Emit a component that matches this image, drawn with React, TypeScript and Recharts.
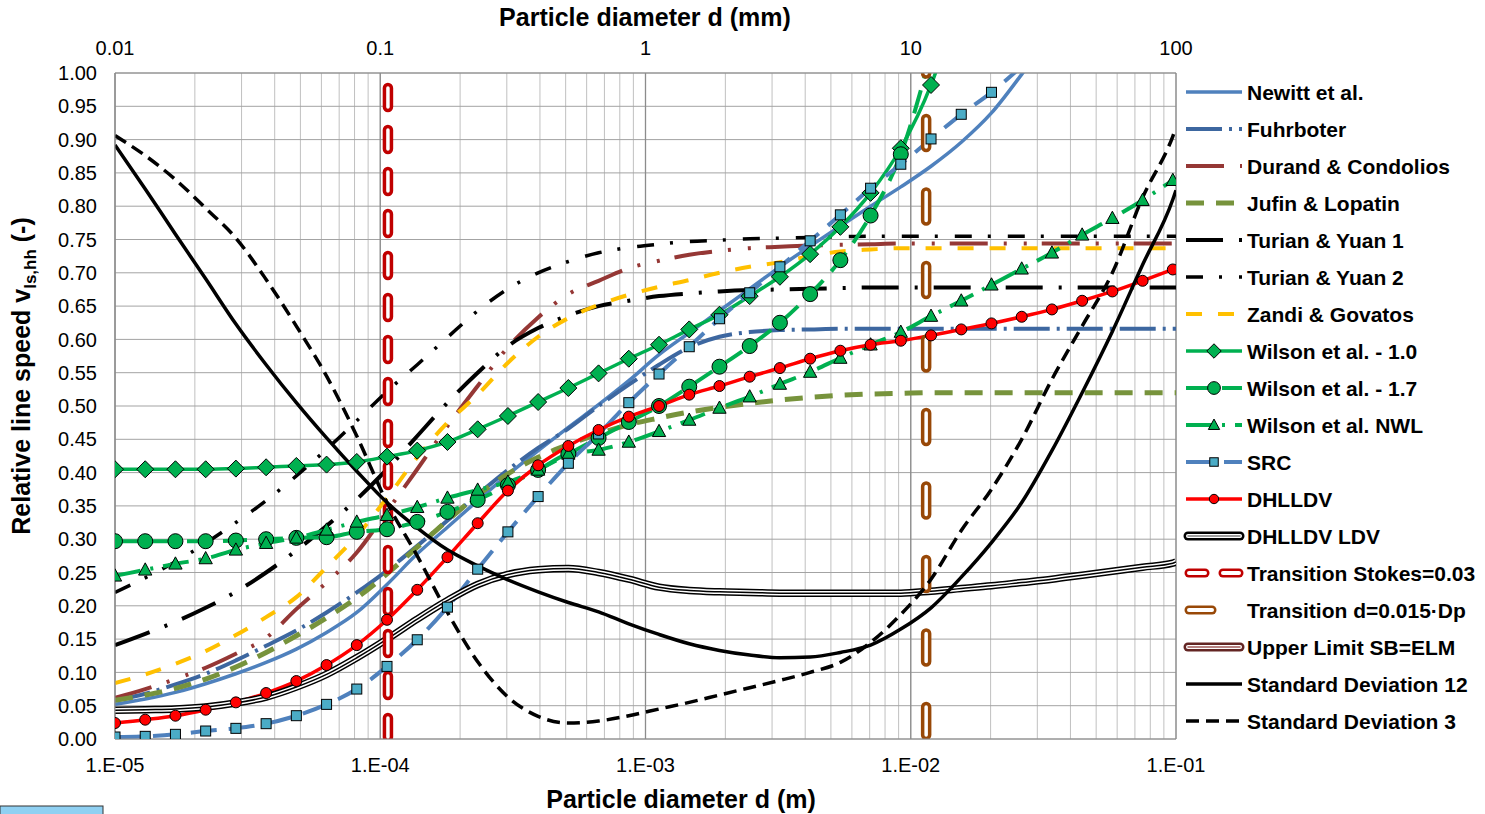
import React from 'react'
import { LineChart, Line, XAxis, YAxis, CartesianGrid, ReferenceLine } from 'recharts'

// diameters of the computed points (m), each step is a factor 1.3
const DIAMETERS = [
  1.0e-5, 1.3e-5, 1.69e-5, 2.197e-5, 2.856e-5, 3.713e-5, 4.827e-5, 6.275e-5, 8.157e-5,
  1.0604e-4, 1.3786e-4, 1.7922e-4, 2.3298e-4, 3.0288e-4, 3.9374e-4, 5.1186e-4, 6.6542e-4, 8.6504e-4,
  1.1246e-3, 1.4619e-3, 1.9005e-3, 2.4706e-3, 3.2118e-3, 4.1754e-3, 5.428e-3, 7.0564e-3, 9.1733e-3,
  1.1925e-2, 1.5503e-2, 2.0154e-2, 2.62e-2, 3.406e-2, 4.4278e-2, 5.7561e-2, 7.483e-2, 9.7279e-2,
]
// model curves run on to the end of the axis
const CURVE_DIAMETERS = [...DIAMETERS, 0.1]

const STOKES_D = 1.069e-4 // Stokes number 0.03
const DP_D = 0.01143 // 0.015 * Dp

const NEWITT = [
  0.052, 0.06, 0.07, 0.083, 0.098, 0.115, 0.135, 0.16, 0.19, 0.232, 0.278, 0.318, 0.358, 0.397, 0.433, 0.468,
  0.502, 0.538, 0.577, 0.61, 0.643, 0.676, 0.709, 0.74, 0.77, 0.8, 0.829, 0.86, 0.896, 0.94, 0.998, 1.06,
]
const FUHRBOTER = [
  0.058, 0.068, 0.082, 0.098, 0.118, 0.14, 0.163, 0.19, 0.22, 0.253, 0.29, 0.328, 0.367, 0.404, 0.437, 0.466,
  0.5, 0.532, 0.562, 0.588, 0.604, 0.611, 0.614, 0.615, 0.616, 0.616, 0.616, 0.616, 0.616, 0.616, 0.616, 0.616,
  0.616, 0.616, 0.616, 0.616, 0.616,
]
const DURAND = [
  0.062, 0.075, 0.09, 0.107, 0.128, 0.152, 0.195, 0.235, 0.28, 0.342, 0.405, 0.47, 0.53, 0.588, 0.633, 0.668,
  0.688, 0.707, 0.718, 0.727, 0.733, 0.737, 0.739, 0.741, 0.742, 0.743, 0.744, 0.744, 0.744, 0.744, 0.744, 0.744,
  0.744, 0.744, 0.744, 0.744, 0.744,
]
const JUFIN = [
  0.058, 0.066, 0.076, 0.09, 0.108, 0.13, 0.155, 0.182, 0.212, 0.248, 0.288, 0.328, 0.366, 0.398, 0.423, 0.442,
  0.458, 0.472, 0.482, 0.491, 0.498, 0.504, 0.509, 0.513, 0.516, 0.518, 0.519, 0.52, 0.52, 0.52, 0.52, 0.52,
  0.52, 0.52, 0.52, 0.52, 0.52,
]
const TURIAN_1 = [
  0.141, 0.158, 0.176, 0.197, 0.221, 0.25, 0.283, 0.32, 0.36, 0.405, 0.455, 0.505, 0.55, 0.59, 0.617, 0.636,
  0.65, 0.658, 0.665, 0.669, 0.672, 0.674, 0.675, 0.676, 0.677, 0.678, 0.678, 0.678, 0.678, 0.678, 0.678, 0.678,
  0.678, 0.678, 0.678, 0.678, 0.678,
]
const TURIAN_2 = [
  0.22, 0.242, 0.266, 0.294, 0.325, 0.358, 0.395, 0.435, 0.478, 0.522, 0.562, 0.603, 0.643, 0.676, 0.7, 0.717,
  0.73, 0.738, 0.743, 0.747, 0.749, 0.751, 0.752, 0.753, 0.754, 0.755, 0.755, 0.755, 0.755, 0.755, 0.755, 0.755,
  0.755, 0.755, 0.755, 0.755, 0.755,
]
const ZANDI = [
  0.084, 0.097, 0.113, 0.132, 0.156, 0.183, 0.213, 0.258, 0.305, 0.362, 0.423, 0.475, 0.517, 0.565, 0.604, 0.632,
  0.652, 0.667, 0.679, 0.689, 0.7, 0.709, 0.716, 0.725, 0.732, 0.735, 0.737, 0.737, 0.737, 0.737, 0.737, 0.737,
  0.737, 0.737, 0.737, 0.737, 0.737,
]
const WILSON_10 = [
  0.405, 0.405, 0.405, 0.405, 0.406, 0.408, 0.41, 0.412, 0.416, 0.424, 0.433, 0.446, 0.465, 0.485, 0.506, 0.527,
  0.549, 0.571, 0.592, 0.615, 0.637, 0.665, 0.694, 0.728, 0.769, 0.82, 0.887, 0.982, 1.12,
]
const WILSON_17 = [
  0.297, 0.297, 0.297, 0.297, 0.298, 0.3, 0.302, 0.303, 0.311, 0.315, 0.326, 0.341, 0.359, 0.381, 0.404, 0.428,
  0.452, 0.476, 0.5, 0.529, 0.559, 0.59, 0.625, 0.668, 0.719, 0.786, 0.878, 1.03,
]
const WILSON_NWL = [
  0.245, 0.254, 0.263, 0.271, 0.284, 0.294, 0.302, 0.314, 0.326, 0.336, 0.348, 0.362, 0.374, 0.386, 0.404, 0.428,
  0.434, 0.446, 0.462, 0.479, 0.497, 0.514, 0.533, 0.551, 0.572, 0.592, 0.611, 0.635, 0.658, 0.682, 0.706, 0.73,
  0.757, 0.782, 0.809, 0.839,
]
const SRC = [
  0.003, 0.004, 0.007, 0.012, 0.016, 0.023, 0.035, 0.052, 0.075, 0.109, 0.149, 0.198, 0.255, 0.311, 0.364, 0.414,
  0.458, 0.505, 0.548, 0.589, 0.631, 0.67, 0.709, 0.748, 0.787, 0.827, 0.863, 0.901, 0.938, 0.971, 1.01,
]
const DHLLDV = [
  0.024, 0.029, 0.035, 0.044, 0.055, 0.069, 0.087, 0.111, 0.141, 0.179, 0.224, 0.273, 0.324, 0.373, 0.411, 0.44,
  0.464, 0.484, 0.5, 0.517, 0.53, 0.544, 0.557, 0.571, 0.583, 0.592, 0.598, 0.606, 0.615, 0.624, 0.634, 0.645,
  0.658, 0.672, 0.688, 0.705,
]
const DHLLDV_LDV = [
  0.043, 0.044, 0.045, 0.048, 0.054, 0.063, 0.078, 0.097, 0.122, 0.15, 0.18, 0.208, 0.232, 0.247, 0.254, 0.256,
  0.25, 0.24, 0.228, 0.223, 0.221, 0.22, 0.219, 0.219, 0.219, 0.219, 0.219, 0.222, 0.226, 0.23, 0.235, 0.24,
  0.246, 0.252, 0.258, 0.264, 0.266,
]
const STD_DEV_12 = [
  0.892, 0.826, 0.758, 0.691, 0.623, 0.562, 0.505, 0.452, 0.402, 0.355, 0.317, 0.284, 0.26, 0.239, 0.221, 0.205,
  0.191, 0.173, 0.157, 0.143, 0.133, 0.126, 0.122, 0.123, 0.13, 0.141, 0.165, 0.197, 0.243, 0.295, 0.355, 0.433,
  0.52, 0.612, 0.712, 0.81, 0.824,
]
const STD_DEV_3 = [
  0.906, 0.876, 0.84, 0.797, 0.752, 0.69, 0.62, 0.545, 0.455, 0.355, 0.275, 0.19, 0.116, 0.063, 0.034, 0.024,
  0.027, 0.035, 0.045, 0.055, 0.066, 0.077, 0.088, 0.1, 0.115, 0.145, 0.187, 0.24, 0.313, 0.375, 0.45, 0.54,
  0.62, 0.7, 0.813, 0.905, 0.918,
]

const DECADES = [1e-5, 1e-4, 1e-3, 1e-2, 1e-1]
const DECADE_LABELS = ['1.E-05', '1.E-04', '1.E-03', '1.E-02', '1.E-01']
const MM_TICKS = [0.01, 0.1, 1, 10, 100]
const MM_LABELS = ['0.01', '0.1', '1', '10', '100']
const V_TICKS = [0, 0.05, 0.1, 0.15, 0.2, 0.25, 0.3, 0.35, 0.4, 0.45, 0.5, 0.55, 0.6, 0.65, 0.7, 0.75, 0.8, 0.85, 0.9, 0.95, 1]

const rows = (xs: number[], ys: number[]) => ys.map((v, i) => ({ d: xs[i], v }))

// 1..9 per decade, for the minor grid
const GRID_TICKS = [
  ...DECADES.slice(0, 4).flatMap((dec) => [1, 2, 3, 4, 5, 6, 7, 8, 9].map((m) => m * dec)),
  0.1,
]

// the mm axis only needs its two ends to span the same range
const MM_SPAN = [{ mm: 0.01, v: 0 }, { mm: 100, v: 0 }]

const FONT = '"Liberation Sans", Arial, sans-serif'
const GREEN = '#00b050'

type MarkerKind = 'diamond' | 'circle' | 'triangle' | 'square'

interface Series {
  name: string
  data: { d: number; v: number }[]
  color: string
  width: number
  dash?: string
  marker?: MarkerKind
  markerFill?: string
  markerSize?: number
}

const SERIES: Series[] = [
  { name: 'Newitt et al.', data: rows(DIAMETERS, NEWITT), color: '#4f81bd', width: 3.5 },
  { name: 'Fuhrboter', data: rows(CURVE_DIAMETERS, FUHRBOTER), color: '#3d67a0', width: 4, dash: '36 7 3 7' },
  { name: 'Durand & Condolios', data: rows(CURVE_DIAMETERS, DURAND), color: '#953735', width: 4, dash: '38 16 3 17 3 15' },
  { name: 'Jufin & Lopatin', data: rows(CURVE_DIAMETERS, JUFIN), color: '#77933c', width: 5, dash: '18 12' },
  { name: 'Turian & Yuan 1', data: rows(CURVE_DIAMETERS, TURIAN_1), color: '#000000', width: 4, dash: '37 16 3 16' },
  { name: 'Turian & Yuan 2', data: rows(CURVE_DIAMETERS, TURIAN_2), color: '#000000', width: 3.5, dash: '17 16 3 17' },
  { name: 'Zandi & Govatos', data: rows(CURVE_DIAMETERS, ZANDI), color: '#ffc000', width: 4, dash: '16 16' },
  { name: 'Wilson et al. - 1.0', data: rows(DIAMETERS, WILSON_10), color: GREEN, width: 3.5, marker: 'diamond', markerFill: GREEN, markerSize: 8.5 },
  { name: 'Wilson et al. - 1.7', data: rows(DIAMETERS, WILSON_17), color: GREEN, width: 4, dash: '24 12', marker: 'circle', markerFill: GREEN, markerSize: 7.5 },
  { name: 'Wilson et al. NWL', data: rows(DIAMETERS, WILSON_NWL), color: GREEN, width: 4, dash: '26 10 3 10', marker: 'triangle', markerFill: GREEN, markerSize: 7 },
  { name: 'SRC', data: rows(DIAMETERS, SRC), color: '#4f81bd', width: 4, dash: '26 12', marker: 'square', markerFill: '#4bacc6', markerSize: 5 },
  { name: 'DHLLDV', data: rows(DIAMETERS, DHLLDV), color: '#ff0000', width: 3.5, marker: 'circle', markerFill: '#ff0000', markerSize: 5.5 },
]

const STD_SERIES: Series[] = [
  { name: 'Standard Deviation 12', data: rows(CURVE_DIAMETERS, STD_DEV_12), color: '#000000', width: 3.5 },
  { name: 'Standard Deviation 3', data: rows(CURVE_DIAMETERS, STD_DEV_3), color: '#000000', width: 3.5, dash: '13 7' },
]

const LDV_ROWS = rows(CURVE_DIAMETERS, DHLLDV_LDV)
const STOKES_ROWS = [{ d: STOKES_D, v: 0 }, { d: STOKES_D, v: 1 }]
const DP_ROWS = [{ d: DP_D, v: 0 }, { d: DP_D, v: 1 }]

function MarkerShape({ kind, cx, cy, fill, r }: { kind: MarkerKind; cx: number; cy: number; fill: string; r: number }) {
  const stroke = { stroke: '#000', strokeWidth: 1 }
  if (kind === 'diamond')
    return <polygon points={`${cx},${cy - r} ${cx + r},${cy} ${cx},${cy + r} ${cx - r},${cy}`} fill={fill} {...stroke} />
  if (kind === 'circle') return <circle cx={cx} cy={cy} r={r} fill={fill} {...stroke} />
  if (kind === 'triangle')
    return (
      <polygon
        points={`${cx},${cy - r} ${cx + r * 0.95},${cy + r * 0.75} ${cx - r * 0.95},${cy + r * 0.75}`}
        fill={fill}
        {...stroke}
      />
    )
  return <rect x={cx - r} y={cy - r} width={2 * r} height={2 * r} fill={fill} {...stroke} />
}

const xTickLabel = (v: number) => {
  const i = DECADES.findIndex((dec) => Math.abs(v - dec) / dec < 1e-6)
  return i >= 0 ? DECADE_LABELS[i] : ''
}

const mmTickLabel = (v: number) => {
  const i = MM_TICKS.findIndex((t) => Math.abs(v - t) / t < 1e-6)
  return i >= 0 ? MM_LABELS[i] : ''
}

// legend rows on the right of the plot
const LEGEND_X = 1186
const LEGEND_W = 56
const LEGEND_TOP = 92
const LEGEND_STEP = 37

function LegendRow({ index, name, children }: { index: number; name: string; children: React.ReactNode }) {
  const y = LEGEND_TOP + index * LEGEND_STEP
  return (
    <g transform={`translate(0,${y})`}>
      {children}
      <text x={1247} y={0} dominantBaseline="central" fontSize={21} fontWeight="bold" fontFamily={FONT} fill="#000">
        {name}
      </text>
    </g>
  )
}

function LineSample({ s }: { s: Series }) {
  return (
    <>
      <line x1={LEGEND_X} x2={LEGEND_X + LEGEND_W} y1={0} y2={0} stroke={s.color} strokeWidth={s.width} strokeDasharray={s.dash} />
      {s.marker && (
        <MarkerShape kind={s.marker} cx={LEGEND_X + LEGEND_W / 2} cy={0} fill={s.markerFill ?? s.color} r={(s.markerSize ?? 5) * 0.85} />
      )}
    </>
  )
}

function Capsule({ x1, x2, color, inner }: { x1: number; x2: number; color: string; inner?: string }) {
  return (
    <>
      <line x1={x1} x2={x2} y1={0} y2={0} stroke={color} strokeWidth={9} strokeLinecap="round" />
      <line x1={x1} x2={x2} y1={0} y2={0} stroke="#fff" strokeWidth={4} strokeLinecap="round" />
      {inner && <line x1={x1} x2={x2} y1={0} y2={0} stroke={inner} strokeWidth={1.5} strokeLinecap="round" />}
    </>
  )
}

function Overlay() {
  return (
    <svg width={1485} height={814} style={{ position: 'absolute', left: 0, top: 0, pointerEvents: 'none' }}>
      <text x={645} y={26} textAnchor="middle" fontSize={25} fontWeight="bold" fontFamily={FONT}>
        Particle diameter d (mm)
      </text>
      <text x={681} y={808} textAnchor="middle" fontSize={25} fontWeight="bold" fontFamily={FONT}>
        Particle diameter d (m)
      </text>
      <text transform="translate(30,376) rotate(-90)" textAnchor="middle" fontSize={25} fontWeight="bold" fontFamily={FONT}>
        Relative line speed v
        <tspan fontSize={17} dy={6}>
          ls,hh
        </tspan>
        <tspan dy={-6}> (-)</tspan>
      </text>

      {SERIES.map((s, i) => (
        <LegendRow key={s.name} index={i} name={s.name}>
          <LineSample s={s} />
        </LegendRow>
      ))}
      <LegendRow index={12} name="DHLLDV LDV">
        <Capsule x1={LEGEND_X + 2} x2={LEGEND_X + LEGEND_W - 2} color="#000" inner="#808080" />
      </LegendRow>
      <LegendRow index={13} name="Transition Stokes=0.03">
        <Capsule x1={LEGEND_X + 3} x2={LEGEND_X + 19} color="#c00000" />
        <Capsule x1={LEGEND_X + 37} x2={LEGEND_X + 53} color="#c00000" />
      </LegendRow>
      <LegendRow index={14} name="Transition d=0.015·Dp">
        <Capsule x1={LEGEND_X + 3} x2={LEGEND_X + 26} color="#984807" />
      </LegendRow>
      <LegendRow index={15} name="Upper Limit SB=ELM">
        <Capsule x1={LEGEND_X + 2} x2={LEGEND_X + LEGEND_W - 2} color="#632523" inner="#a05a58" />
      </LegendRow>
      {STD_SERIES.map((s, i) => (
        <LegendRow key={s.name} index={16 + i} name={s.name}>
          <LineSample s={s} />
        </LegendRow>
      ))}

      <rect x={0} y={806} width={103} height={10} fill="#8fd0f2" stroke="#333" strokeWidth={1} />
    </svg>
  )
}

export default function App() {
  const lineProps = { xAxisId: 'm', type: 'monotone' as const, isAnimationActive: false, activeDot: false, dataKey: 'v' }

  const renderSeries = (s: Series) => (
    <Line
      key={s.name}
      {...lineProps}
      name={s.name}
      data={s.data}
      stroke={s.color}
      strokeWidth={s.width}
      strokeDasharray={s.dash}
      dot={
        s.marker
          ? (p: any) =>
              p.cx == null || p.cy == null ? (
                <g key={p.index} />
              ) : (
                <MarkerShape key={p.index} kind={s.marker!} cx={p.cx} cy={p.cy} fill={s.markerFill ?? s.color} r={s.markerSize ?? 5} />
              )
          : false
      }
    />
  )

  const tickStyle = { fontSize: 20, fill: '#000', fontFamily: FONT }

  return (
    <div style={{ position: 'absolute', left: 0, top: 0, width: 1485, height: 814, background: '#fff', fontFamily: FONT }}>
      <LineChart width={1485} height={814} margin={{ top: 0, right: 309, bottom: 0, left: 0 }}>
        <CartesianGrid xAxisId="m" horizontal={false} stroke="#c0c0c0" strokeWidth={1} />
        <CartesianGrid xAxisId="m" vertical={false} stroke="#a3a3a3" strokeWidth={1} />
        {DECADES.map((dec) => (
          <ReferenceLine key={dec} xAxisId="m" x={dec} stroke="#8c8c8c" strokeWidth={1.3} />
        ))}
        <XAxis
          xAxisId="m"
          dataKey="d"
          type="number"
          scale="log"
          domain={[1e-5, 0.1]}
          allowDataOverflow
          ticks={GRID_TICKS}
          interval={0}
          tickFormatter={xTickLabel}
          height={75}
          tickSize={0}
          tickMargin={19}
          axisLine={{ stroke: '#8c8c8c' }}
          tick={tickStyle}
        />
        <XAxis
          xAxisId="mm"
          dataKey="mm"
          orientation="top"
          type="number"
          scale="log"
          domain={[0.01, 100]}
          allowDataOverflow
          ticks={MM_TICKS}
          interval={0}
          tickFormatter={mmTickLabel}
          height={73}
          tickSize={0}
          tickMargin={18}
          axisLine={{ stroke: '#8c8c8c' }}
          tick={tickStyle}
        />
        <YAxis
          type="number"
          domain={[0, 1]}
          allowDataOverflow
          ticks={V_TICKS}
          interval={0}
          tickFormatter={(v: number) => v.toFixed(2)}
          width={115}
          tickSize={0}
          tickMargin={18}
          axisLine={{ stroke: '#8c8c8c' }}
          tick={tickStyle}
        />

        {/* carries the mm axis */}
        <Line xAxisId="mm" dataKey="v" data={MM_SPAN} stroke="none" dot={false} activeDot={false} isAnimationActive={false} legendType="none" />

        {SERIES.map(renderSeries)}

        {/* DHLLDV LDV: outlined black line */}
        <Line {...lineProps} name="DHLLDV LDV" data={LDV_ROWS} stroke="#000" strokeWidth={7.5} dot={false} />
        <Line {...lineProps} name="LDV inner" data={LDV_ROWS} stroke="#fff" strokeWidth={4.5} dot={false} legendType="none" />
        <Line {...lineProps} name="LDV core" data={LDV_ROWS} stroke="#000" strokeWidth={1.5} dot={false} legendType="none" />

        {/* vertical transition lines, hollow dashes */}
        <Line {...lineProps} type="linear" name="Transition Stokes=0.03" data={STOKES_ROWS} stroke="#c00000" strokeWidth={10.5}
          strokeDasharray="19 23" strokeDashoffset={40} strokeLinecap="round" dot={false} />
        <Line {...lineProps} type="linear" name="Stokes inner" data={STOKES_ROWS} stroke="#fff" strokeWidth={3.5}
          strokeDasharray="19 23" strokeDashoffset={40} strokeLinecap="round" dot={false} legendType="none" />
        <Line {...lineProps} type="linear" name="Transition d=0.015·Dp" data={DP_ROWS} stroke="#984807" strokeWidth={10.5}
          strokeDasharray="28 45.5" strokeDashoffset={69.5} strokeLinecap="round" dot={false} />
        <Line {...lineProps} type="linear" name="Dp inner" data={DP_ROWS} stroke="#fff" strokeWidth={3.5}
          strokeDasharray="28 45.5" strokeDashoffset={69.5} strokeLinecap="round" dot={false} legendType="none" />

        {STD_SERIES.map(renderSeries)}
      </LineChart>
      <Overlay />
    </div>
  )
}
